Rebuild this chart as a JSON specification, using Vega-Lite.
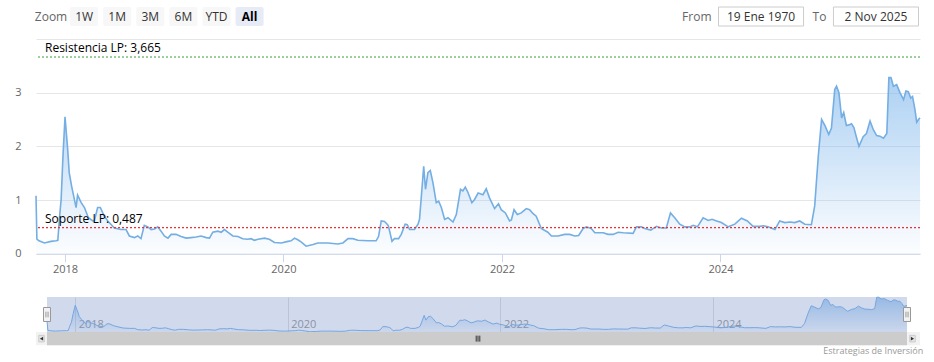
{
  "$schema": "https://vega.github.io/schema/vega-lite/v6.json",
  "background": "white",
  "padding": {"left": 14, "top": 6, "right": 5, "bottom": 2},
  "bounds": "flush",
  "spacing": 0,
  "config": {"view": {"stroke": null}, "font": "Open Sans"},
  "title": {"text": "Estrategias de Inversión", "orient": "bottom", "anchor": "end", "fontSize": 9, "fontWeight": "normal", "color": "#999999", "offset": 2},
  "datasets": {
    "buttons": [
      {"label": "Zoom", "state": "label"},
      {"label": "1W", "state": "normal"},
      {"label": "1M", "state": "normal"},
      {"label": "3M", "state": "normal"},
      {"label": "6M", "state": "normal"},
      {"label": "YTD", "state": "normal"},
      {"label": "All", "state": "selected"}
    ],
    "dateInputs": [
      {"field": "From", "text": "19 Ene 1970"},
      {"field": "To", "text": "2 Nov 2025"}
    ],
    "selection": [{"from": "2017-09-26", "to": "2025-10-29"}],
    "levels": [
      {"name": "Resistencia LP", "value": 3.665, "label": "Resistencia LP: 3,665"},
      {"name": "Soporte LP", "value": 0.487, "label": "Soporte LP: 0,487"}
    ],
    "series": [
      {"date": "2017-09-26", "value": 1.08},
      {"date": "2017-09-29", "value": 0.27},
      {"date": "2017-10-06", "value": 0.24},
      {"date": "2017-10-24", "value": 0.20},
      {"date": "2017-11-15", "value": 0.23},
      {"date": "2017-12-02", "value": 0.24},
      {"date": "2017-12-08", "value": 0.25},
      {"date": "2017-12-13", "value": 0.64},
      {"date": "2017-12-19", "value": 1.01},
      {"date": "2017-12-25", "value": 1.80},
      {"date": "2018-01-01", "value": 2.55},
      {"date": "2018-01-10", "value": 1.94},
      {"date": "2018-01-15", "value": 1.51},
      {"date": "2018-01-23", "value": 1.26},
      {"date": "2018-02-07", "value": 0.86},
      {"date": "2018-02-12", "value": 1.09},
      {"date": "2018-02-24", "value": 0.95},
      {"date": "2018-03-07", "value": 0.86},
      {"date": "2018-03-20", "value": 0.67},
      {"date": "2018-04-04", "value": 0.61},
      {"date": "2018-04-09", "value": 0.61},
      {"date": "2018-04-20", "value": 0.86},
      {"date": "2018-04-29", "value": 0.86},
      {"date": "2018-05-12", "value": 0.70},
      {"date": "2018-05-24", "value": 0.61},
      {"date": "2018-06-15", "value": 0.48},
      {"date": "2018-07-07", "value": 0.45},
      {"date": "2018-07-24", "value": 0.45},
      {"date": "2018-08-04", "value": 0.33},
      {"date": "2018-08-21", "value": 0.30},
      {"date": "2018-09-01", "value": 0.33},
      {"date": "2018-09-12", "value": 0.28},
      {"date": "2018-09-23", "value": 0.53},
      {"date": "2018-10-05", "value": 0.50},
      {"date": "2018-10-16", "value": 0.45},
      {"date": "2018-10-27", "value": 0.46},
      {"date": "2018-11-07", "value": 0.50},
      {"date": "2018-11-18", "value": 0.42},
      {"date": "2018-11-29", "value": 0.33},
      {"date": "2018-12-11", "value": 0.29},
      {"date": "2018-12-22", "value": 0.36},
      {"date": "2019-01-07", "value": 0.36},
      {"date": "2019-01-24", "value": 0.32},
      {"date": "2019-02-10", "value": 0.29},
      {"date": "2019-02-26", "value": 0.30},
      {"date": "2019-03-15", "value": 0.31},
      {"date": "2019-04-01", "value": 0.33},
      {"date": "2019-04-18", "value": 0.30},
      {"date": "2019-04-29", "value": 0.29},
      {"date": "2019-05-10", "value": 0.40},
      {"date": "2019-05-27", "value": 0.42},
      {"date": "2019-06-07", "value": 0.40},
      {"date": "2019-06-18", "value": 0.45},
      {"date": "2019-06-29", "value": 0.40},
      {"date": "2019-07-16", "value": 0.33},
      {"date": "2019-08-02", "value": 0.32},
      {"date": "2019-08-18", "value": 0.28},
      {"date": "2019-09-04", "value": 0.27},
      {"date": "2019-09-15", "value": 0.28},
      {"date": "2019-09-26", "value": 0.25},
      {"date": "2019-10-08", "value": 0.27},
      {"date": "2019-10-30", "value": 0.29},
      {"date": "2019-11-15", "value": 0.27},
      {"date": "2019-12-02", "value": 0.21},
      {"date": "2019-12-25", "value": 0.20},
      {"date": "2020-01-16", "value": 0.23},
      {"date": "2020-01-27", "value": 0.24},
      {"date": "2020-02-07", "value": 0.29},
      {"date": "2020-02-18", "value": 0.26},
      {"date": "2020-02-29", "value": 0.22},
      {"date": "2020-03-17", "value": 0.14},
      {"date": "2020-04-09", "value": 0.17},
      {"date": "2020-04-25", "value": 0.20},
      {"date": "2020-05-13", "value": 0.20},
      {"date": "2020-05-29", "value": 0.20},
      {"date": "2020-07-01", "value": 0.18},
      {"date": "2020-07-18", "value": 0.20},
      {"date": "2020-08-04", "value": 0.28},
      {"date": "2020-08-20", "value": 0.28},
      {"date": "2020-09-06", "value": 0.25},
      {"date": "2020-10-10", "value": 0.24},
      {"date": "2020-11-06", "value": 0.24},
      {"date": "2020-11-14", "value": 0.32},
      {"date": "2020-11-23", "value": 0.61},
      {"date": "2020-12-04", "value": 0.60},
      {"date": "2020-12-13", "value": 0.55},
      {"date": "2020-12-17", "value": 0.52},
      {"date": "2020-12-29", "value": 0.23},
      {"date": "2021-01-06", "value": 0.28},
      {"date": "2021-01-20", "value": 0.28},
      {"date": "2021-01-29", "value": 0.36},
      {"date": "2021-02-11", "value": 0.55},
      {"date": "2021-02-18", "value": 0.54},
      {"date": "2021-02-26", "value": 0.45},
      {"date": "2021-03-14", "value": 0.45},
      {"date": "2021-03-26", "value": 0.55},
      {"date": "2021-03-31", "value": 0.64},
      {"date": "2021-04-08", "value": 1.20},
      {"date": "2021-04-14", "value": 1.63},
      {"date": "2021-04-20", "value": 1.20},
      {"date": "2021-04-28", "value": 1.51},
      {"date": "2021-05-06", "value": 1.55},
      {"date": "2021-05-15", "value": 1.32},
      {"date": "2021-05-26", "value": 0.95},
      {"date": "2021-06-03", "value": 0.98},
      {"date": "2021-06-12", "value": 0.86},
      {"date": "2021-06-23", "value": 0.64},
      {"date": "2021-07-04", "value": 0.67},
      {"date": "2021-07-21", "value": 0.59},
      {"date": "2021-08-01", "value": 0.73},
      {"date": "2021-08-15", "value": 1.20},
      {"date": "2021-08-23", "value": 1.17},
      {"date": "2021-08-31", "value": 1.24},
      {"date": "2021-09-09", "value": 1.14},
      {"date": "2021-09-22", "value": 0.95},
      {"date": "2021-10-01", "value": 1.01},
      {"date": "2021-10-13", "value": 1.13},
      {"date": "2021-10-29", "value": 1.10},
      {"date": "2021-11-09", "value": 1.21},
      {"date": "2021-11-20", "value": 1.04},
      {"date": "2021-12-07", "value": 0.84},
      {"date": "2021-12-20", "value": 0.93},
      {"date": "2021-12-29", "value": 0.82},
      {"date": "2022-01-12", "value": 0.76},
      {"date": "2022-01-26", "value": 0.61},
      {"date": "2022-02-01", "value": 0.63},
      {"date": "2022-02-10", "value": 0.82},
      {"date": "2022-02-21", "value": 0.73},
      {"date": "2022-03-06", "value": 0.76},
      {"date": "2022-03-23", "value": 0.84},
      {"date": "2022-04-03", "value": 0.82},
      {"date": "2022-04-14", "value": 0.75},
      {"date": "2022-04-25", "value": 0.70},
      {"date": "2022-05-12", "value": 0.47},
      {"date": "2022-06-03", "value": 0.40},
      {"date": "2022-06-15", "value": 0.33},
      {"date": "2022-07-07", "value": 0.33},
      {"date": "2022-07-29", "value": 0.36},
      {"date": "2022-08-15", "value": 0.36},
      {"date": "2022-09-01", "value": 0.33},
      {"date": "2022-09-14", "value": 0.34},
      {"date": "2022-09-29", "value": 0.47},
      {"date": "2022-10-10", "value": 0.50},
      {"date": "2022-10-26", "value": 0.47},
      {"date": "2022-11-07", "value": 0.39},
      {"date": "2022-12-05", "value": 0.39},
      {"date": "2022-12-21", "value": 0.36},
      {"date": "2023-01-07", "value": 0.36},
      {"date": "2023-01-24", "value": 0.40},
      {"date": "2023-02-10", "value": 0.39},
      {"date": "2023-03-15", "value": 0.38},
      {"date": "2023-03-26", "value": 0.50},
      {"date": "2023-04-12", "value": 0.50},
      {"date": "2023-04-23", "value": 0.47},
      {"date": "2023-05-13", "value": 0.44},
      {"date": "2023-06-01", "value": 0.51},
      {"date": "2023-06-18", "value": 0.48},
      {"date": "2023-07-04", "value": 0.48},
      {"date": "2023-07-18", "value": 0.76},
      {"date": "2023-08-01", "value": 0.67},
      {"date": "2023-08-18", "value": 0.55},
      {"date": "2023-09-04", "value": 0.50},
      {"date": "2023-09-20", "value": 0.50},
      {"date": "2023-10-02", "value": 0.53},
      {"date": "2023-10-16", "value": 0.50},
      {"date": "2023-11-04", "value": 0.67},
      {"date": "2023-11-21", "value": 0.62},
      {"date": "2023-12-04", "value": 0.64},
      {"date": "2023-12-19", "value": 0.61},
      {"date": "2024-01-04", "value": 0.58},
      {"date": "2024-01-27", "value": 0.50},
      {"date": "2024-02-18", "value": 0.55},
      {"date": "2024-03-11", "value": 0.66},
      {"date": "2024-03-31", "value": 0.61},
      {"date": "2024-04-19", "value": 0.51},
      {"date": "2024-05-11", "value": 0.51},
      {"date": "2024-05-24", "value": 0.52},
      {"date": "2024-06-08", "value": 0.50},
      {"date": "2024-07-01", "value": 0.45},
      {"date": "2024-07-17", "value": 0.61},
      {"date": "2024-08-03", "value": 0.58},
      {"date": "2024-08-20", "value": 0.59},
      {"date": "2024-09-05", "value": 0.58},
      {"date": "2024-09-22", "value": 0.61},
      {"date": "2024-10-09", "value": 0.55},
      {"date": "2024-10-31", "value": 0.54},
      {"date": "2024-11-11", "value": 0.89},
      {"date": "2024-11-23", "value": 1.82},
      {"date": "2024-12-04", "value": 2.50},
      {"date": "2024-12-15", "value": 2.39},
      {"date": "2024-12-28", "value": 2.22},
      {"date": "2025-01-06", "value": 2.34},
      {"date": "2025-01-17", "value": 3.06},
      {"date": "2025-01-23", "value": 3.12},
      {"date": "2025-01-31", "value": 3.00},
      {"date": "2025-02-09", "value": 2.53},
      {"date": "2025-02-16", "value": 2.63},
      {"date": "2025-02-25", "value": 2.39},
      {"date": "2025-03-05", "value": 2.40},
      {"date": "2025-03-14", "value": 2.42},
      {"date": "2025-03-22", "value": 2.35},
      {"date": "2025-03-31", "value": 2.16},
      {"date": "2025-04-08", "value": 2.00},
      {"date": "2025-04-22", "value": 2.18},
      {"date": "2025-05-03", "value": 2.24},
      {"date": "2025-05-15", "value": 2.47},
      {"date": "2025-05-26", "value": 2.31},
      {"date": "2025-06-06", "value": 2.20},
      {"date": "2025-06-17", "value": 2.19},
      {"date": "2025-06-29", "value": 2.15},
      {"date": "2025-07-10", "value": 2.24},
      {"date": "2025-07-17", "value": 3.28},
      {"date": "2025-07-24", "value": 3.28},
      {"date": "2025-08-01", "value": 3.12},
      {"date": "2025-08-12", "value": 3.15},
      {"date": "2025-08-23", "value": 3.00},
      {"date": "2025-09-04", "value": 2.87},
      {"date": "2025-09-12", "value": 3.03},
      {"date": "2025-09-20", "value": 3.02},
      {"date": "2025-09-28", "value": 2.90},
      {"date": "2025-10-04", "value": 2.93},
      {"date": "2025-10-12", "value": 2.69},
      {"date": "2025-10-18", "value": 2.45},
      {"date": "2025-10-24", "value": 2.50},
      {"date": "2025-10-29", "value": 2.53}
    ]
  },
  "vconcat": [
    {
      "width": 884,
      "height": 19,
      "layer": [
        {
          "data": {"name": "buttons"},
          "encoding": {
            "x": {"field": "label", "type": "nominal", "sort": null, "axis": null,
              "scale": {"domain": ["Zoom", "1W", "1M", "3M", "6M", "YTD", "All"], "range": [1, 227.6], "paddingInner": 0.154, "paddingOuter": 0}}
          },
          "layer": [
            {
              "transform": [{"filter": "datum.state != 'label'"}],
              "mark": {"type": "rect", "cornerRadius": 2},
              "encoding": {"color": {"condition": {"test": "datum.state == 'selected'", "value": "#e6ebf5"}, "value": "#f7f7f7"}}
            },
            {
              "transform": [{"filter": "datum.state != 'selected'"}],
              "mark": {"type": "text", "fontSize": 12, "baseline": "middle"},
              "encoding": {
                "text": {"field": "label"},
                "color": {"condition": {"test": "datum.state == 'label'", "value": "#666666"}, "value": "#333333"}
              }
            },
            {
              "transform": [{"filter": "datum.state == 'selected'"}],
              "mark": {"type": "text", "fontSize": 12, "fontWeight": "bold", "color": "#000000", "baseline": "middle"},
              "encoding": {"text": {"field": "label"}}
            }
          ]
        },
        {
          "data": {"name": "dateInputs"},
          "encoding": {
            "x": {"field": "field", "type": "nominal", "sort": null, "axis": null,
              "scale": {"domain": ["From", "To"], "range": [682.5, 882.5], "paddingInner": 0.26, "paddingOuter": 0}}
          },
          "layer": [
            {"mark": {"type": "rect", "fill": "#ffffff", "stroke": "#cccccc", "strokeWidth": 1}},
            {"mark": {"type": "text", "fontSize": 12, "color": "#333333", "baseline": "middle"}, "encoding": {"text": {"field": "text"}}},
            {
              "mark": {"type": "text", "fontSize": 12, "color": "#666666", "baseline": "middle", "align": "right", "dx": -7},
              "encoding": {
                "text": {"field": "field"},
                "x": {"field": "field", "type": "nominal", "sort": null, "axis": null, "bandPosition": 0}
              }
            }
          ]
        }
      ],
      "resolve": {"scale": {"x": "independent"}}
    },
    {"width": 884, "height": 12.6, "data": {"values": []}, "mark": "point"},
    {
      "width": 884,
      "height": 214.7,
      "layer": [
        {
          "data": {"name": "series"},
          "mark": {
            "type": "area",
            "color": {"gradient": "linear", "x1": 1, "y1": 0, "x2": 1, "y2": 1,
              "stops": [{"offset": 0, "color": "rgba(124,181,236,0.9)"}, {"offset": 1, "color": "rgba(124,181,236,0.03)"}]},
            "line": {"color": "#74aee3", "strokeWidth": 1.6}
          },
          "encoding": {
            "x": {"field": "date", "type": "temporal",
              "scale": {"domain": [{"year": 2017, "month": 9, "date": 26}, {"year": 2025, "month": 10, "date": 29}], "nice": false},
              "axis": {"format": "%Y", "tickCount": {"interval": "year", "step": 2}, "grid": false, "domainColor": "#ccd6eb", "tickColor": "#ccd6eb", "tickSize": 8, "labelPadding": 2, "labelColor": "#666666", "labelFontSize": 11, "labelFlush": false, "title": null}},
            "y": {"field": "value", "type": "quantitative",
              "scale": {"domain": [0, 4], "nice": false},
              "axis": {"values": [0, 1, 2, 3, 4], "format": "d", "labelExpr": "datum.value == 4 ? '' : datum.label", "grid": true, "gridColor": "#e6e6e6", "domain": false, "ticks": false, "labelPadding": 15, "labelColor": "#666666", "labelFontSize": 11, "title": null}}
          }
        },
        {
          "data": {"name": "levels"},
          "transform": [{"filter": "datum.name == 'Resistencia LP'"}],
          "mark": {"type": "rule", "strokeDash": [2, 2], "strokeWidth": 1.2, "color": "#3c9e3c"},
          "encoding": {"y": {"field": "value", "type": "quantitative"}}
        },
        {
          "data": {"name": "levels"},
          "transform": [{"filter": "datum.name == 'Soporte LP'"}],
          "mark": {"type": "rule", "strokeDash": [2, 2], "strokeWidth": 1.2, "color": "#f03030"},
          "encoding": {"y": {"field": "value", "type": "quantitative"}}
        },
        {
          "data": {"name": "levels"},
          "mark": {"type": "text", "align": "left", "baseline": "bottom", "dx": 9, "dy": -2, "fontSize": 12, "color": "#000000"},
          "encoding": {
            "x": {"datum": {"year": 2017, "month": 9, "date": 26}, "type": "temporal"},
            "y": {"field": "value", "type": "quantitative"},
            "text": {"field": "label"}
          }
        }
      ]
    },
    {"width": 884, "height": 42.4, "data": {"values": []}, "mark": "point"},
    {
      "width": 884,
      "height": 35,
      "layer": [
        {
          "data": {"name": "series"},
          "mark": {
            "type": "area",
            "color": {"gradient": "linear", "x1": 1, "y1": 0, "x2": 1, "y2": 1,
              "stops": [{"offset": 0, "color": "rgba(124,181,236,0.9)"}, {"offset": 1, "color": "rgba(124,181,236,0.05)"}]},
            "line": {"color": "#7cb5ec", "strokeWidth": 1}
          },
          "encoding": {
            "x": {"field": "date", "type": "temporal",
              "scale": {"domain": [{"year": 2017, "month": 9, "date": 26}, {"year": 2025, "month": 10, "date": 29}], "range": [11, 871], "nice": false},
              "axis": {"format": "%Y", "tickCount": {"interval": "year", "step": 2}, "grid": true, "gridColor": "#e0e0e0", "domain": false, "ticks": false, "tickSize": 0, "labelAlign": "left", "labelOffset": 3, "labelPadding": -14, "labelColor": "#999999", "labelFontSize": 11, "labelFlush": false, "title": null}},
            "y": {"field": "value", "type": "quantitative", "scale": {"domain": [0.12, 3.3], "nice": false, "zero": false}, "axis": null}
          }
        },
        {
          "data": {"name": "selection"},
          "mark": {"type": "rect", "color": "rgba(102,133,194,0.3)"},
          "encoding": {"x": {"field": "from", "type": "temporal"}, "x2": {"field": "to"}}
        },
        {
          "data": {"name": "selection"},
          "transform": [{"fold": ["from", "to"], "as": ["edge", "date"]}],
          "mark": {"type": "point", "shape": "M-0.5,-1L0.5,-1L0.5,1L-0.5,1Z", "size": 196, "filled": true, "fill": "#f2f2f2", "stroke": "#999999", "strokeWidth": 1, "opacity": 1},
          "encoding": {"x": {"field": "date", "type": "temporal"}}
        },
        {
          "data": {"name": "selection"},
          "transform": [{"fold": ["from", "to"], "as": ["edge", "date"]}],
          "mark": {"type": "point", "shape": "M-0.15,-0.4L-0.15,0.4M0.15,-0.4L0.15,0.4", "size": 196, "filled": false, "stroke": "#999999", "strokeWidth": 1, "opacity": 1},
          "encoding": {"x": {"field": "date", "type": "temporal"}}
        }
      ]
    },
    {
      "width": 884,
      "height": 13.3,
      "view": {"fill": "#f2f2f2"},
      "data": {"name": "selection"},
      "layer": [
        {
          "mark": {"type": "rect", "color": "#cccccc"},
          "encoding": {
            "x": {"field": "from", "type": "temporal",
              "scale": {"domain": [{"year": 2017, "month": 9, "date": 26}, {"year": 2025, "month": 10, "date": 29}], "range": [11, 871], "nice": false},
              "axis": null},
            "x2": {"field": "to"}
          }
        },
        {
          "mark": {"type": "point", "shape": "M-0.6,-1L-0.6,1M0,-1L0,1M0.6,-1L0.6,1", "size": 36, "filled": false, "stroke": "#333333", "strokeWidth": 1, "opacity": 1}
        },
        {
          "mark": {"type": "point", "shape": "M-1,-1.2L1,-1.2L1,1.2L-1,1.2Z", "size": 30.25, "filled": true, "fill": "#e6e6e6", "stroke": "#cccccc", "strokeWidth": 1, "opacity": 1, "xOffset": -5.5},
          "encoding": {"x": {"field": "from", "type": "temporal"}}
        },
        {
          "mark": {"type": "point", "shape": "M-1,-1.2L1,-1.2L1,1.2L-1,1.2Z", "size": 30.25, "filled": true, "fill": "#e6e6e6", "stroke": "#cccccc", "strokeWidth": 1, "opacity": 1, "xOffset": 5.5},
          "encoding": {"x": {"field": "to", "type": "temporal"}}
        },
        {
          "mark": {"type": "point", "shape": "triangle-left", "size": 14, "filled": true, "color": "#333333", "opacity": 1, "xOffset": -5.5},
          "encoding": {"x": {"field": "from", "type": "temporal"}}
        },
        {
          "mark": {"type": "point", "shape": "triangle-right", "size": 14, "filled": true, "color": "#333333", "opacity": 1, "xOffset": 5.5},
          "encoding": {"x": {"field": "to", "type": "temporal"}}
        }
      ]
    }
  ]
}
